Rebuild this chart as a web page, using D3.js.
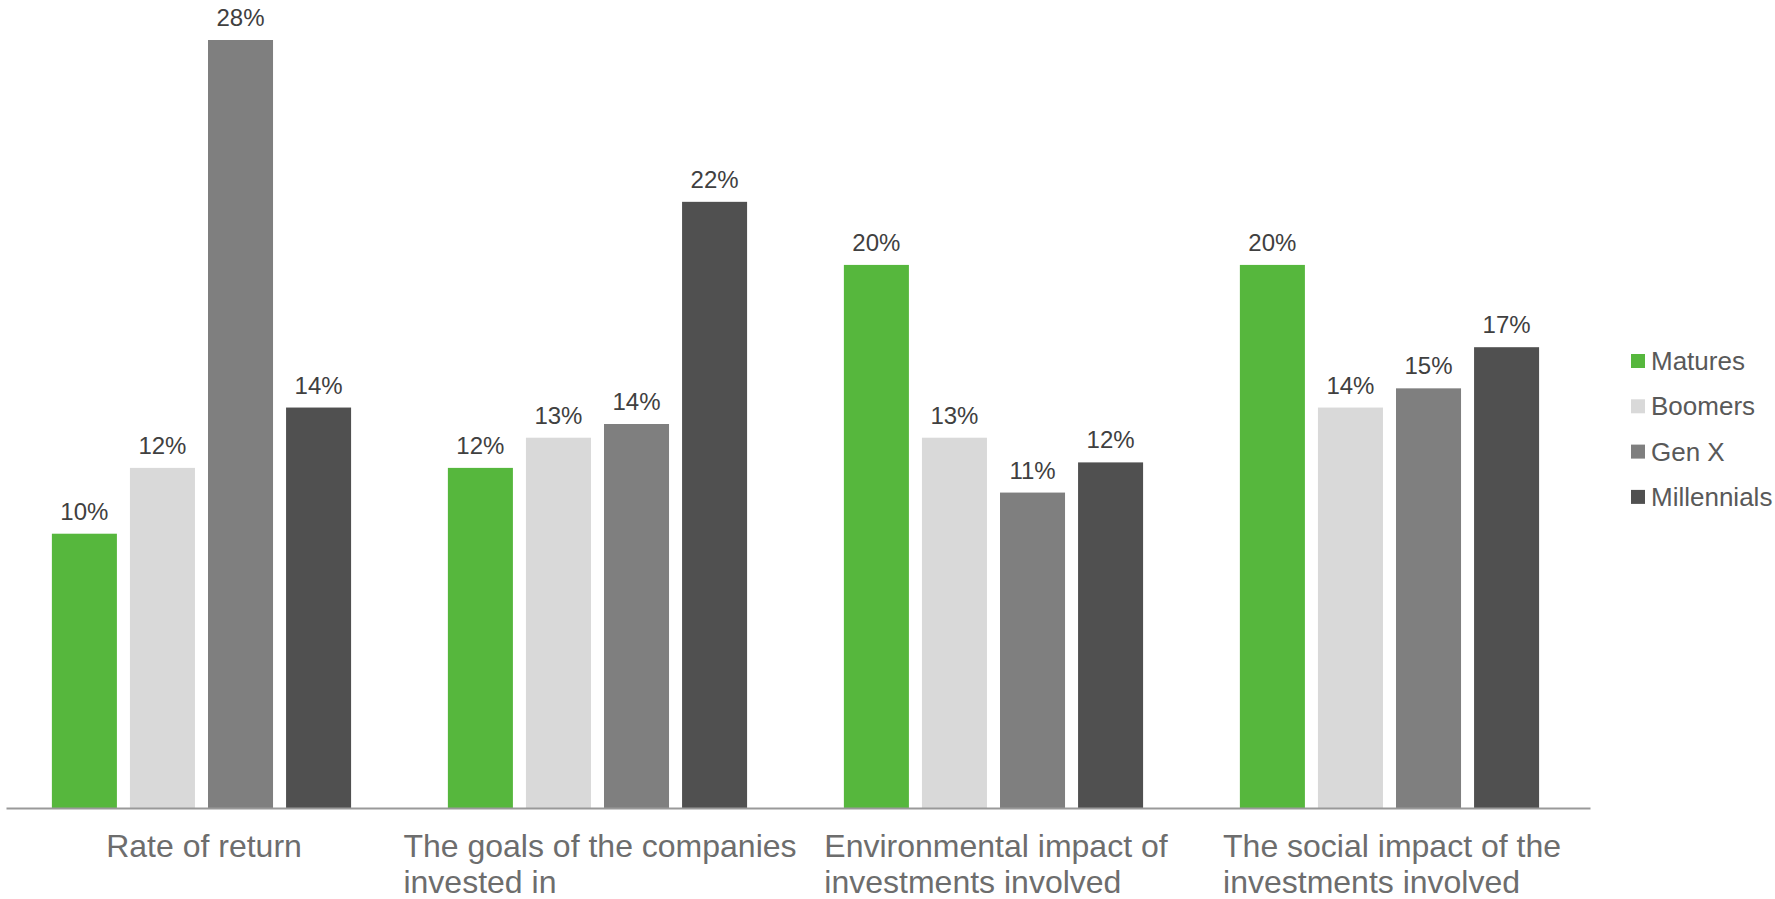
<!DOCTYPE html>
<html>
<head>
<meta charset="utf-8">
<script src="https://cdn.jsdelivr.net/npm/d3@7"></script>
<style>
  html, body { margin: 0; padding: 0; background: #fff; }
  svg { display: block; font-family: "Liberation Sans", Arial, sans-serif; }
</style>
</head>
<body>
<div class="chart-container"></div>
<script>
const width = 1775;
const height = 899;

// chart data
const categories = [
  ['Rate of return'],
  ['The goals of the companies', 'invested in'],
  ['Environmental impact of', 'investments involved'],
  ['The social impact of the', 'investments involved']
];
const seriesNames = ['Matures', 'Boomers', 'Gen X', 'Millennials'];
const seriesColors = ['#56b73d', '#d9d9d9', '#7f7f7f', '#505050'];
const matures = [10.0, 12.4, 19.8, 19.8];
const boomers = [12.4, 13.5, 13.5, 14.6];
const genX = [28.0, 14.0, 11.5, 15.3];
const millennials = [14.6, 22.1, 12.6, 16.8];
const maturesLabels = ['10%', '12%', '20%', '20%'];
const boomersLabels = ['12%', '13%', '13%', '14%'];
const genXLabels = ['28%', '14%', '11%', '15%'];
const millennialsLabels = ['14%', '22%', '12%', '17%'];

const series = [matures, boomers, genX, millennials];
const seriesLabels = [maturesLabels, boomersLabels, genXLabels, millennialsLabels];

const svg = d3.select('.chart-container').append('svg')
  .attr('width', width)
  .attr('height', height);

const scaleX = d3.scaleBand()
  .domain(d3.range(categories.length))
  .range([6, 1590])
  .padding(0);
const scaleInner = d3.scaleBand()
  .domain(d3.range(seriesNames.length))
  .range([0, scaleX.bandwidth()])
  .paddingInner(0.167)
  .paddingOuter(0.62)
  .align(0.474);
const scaleY = d3.scaleLinear()
  .domain([0, 28])
  .range([808, 40]);

// bars
categories.forEach((cat, ci) => {
  const g = svg.append('g').attr('transform', 'translate(' + scaleX(ci) + ',0)');
  series.forEach((vals, si) => {
    g.append('rect')
      .attr('x', scaleInner(si))
      .attr('y', scaleY(vals[ci]))
      .attr('width', scaleInner.bandwidth())
      .attr('height', scaleY(0) - scaleY(vals[ci]))
      .attr('fill', seriesColors[si]);
    g.append('text')
      .attr('x', scaleInner(si) + scaleInner.bandwidth() / 2)
      .attr('y', scaleY(vals[ci]) - 14)
      .attr('text-anchor', 'middle')
      .attr('font-size', 24)
      .attr('fill', '#404040')
      .text(seriesLabels[si][ci]);
  });
});

// axis line
const axis = svg.append('g')
  .attr('transform', 'translate(0,' + scaleY(0) + ')')
  .call(d3.axisBottom(scaleX).tickSize(0).tickFormat(''));
axis.select('.domain').attr('stroke', '#999').attr('stroke-width', 2);

// category labels, block centred, lines left-aligned
categories.forEach((lines, ci) => {
  const t = svg.append('text')
    .attr('font-size', 32)
    .attr('fill', '#6d6d6d');
  lines.forEach((line, li) => {
    t.append('tspan')
      .attr('y', 857 + li * 36)
      .text(line);
  });
  const tspans = t.selectAll('tspan').nodes();
  const maxW = d3.max(tspans, (n) => n.getComputedTextLength());
  const left = scaleX(ci) + scaleX.bandwidth() / 2 - maxW / 2;
  t.selectAll('tspan').attr('x', left);
});

// legend
const legend = svg.append('g').attr('transform', 'translate(1631,361)');
seriesNames.forEach((name, si) => {
  const row = legend.append('g').attr('transform', 'translate(0,' + si * 45.3 + ')');
  row.append('rect')
    .attr('x', 0).attr('y', -7)
    .attr('width', 14).attr('height', 14)
    .attr('fill', seriesColors[si]);
  row.append('text')
    .attr('x', 20).attr('y', 9)
    .attr('font-size', 26)
    .attr('fill', '#595959')
    .text(name);
});
</script>
</body>
</html>
